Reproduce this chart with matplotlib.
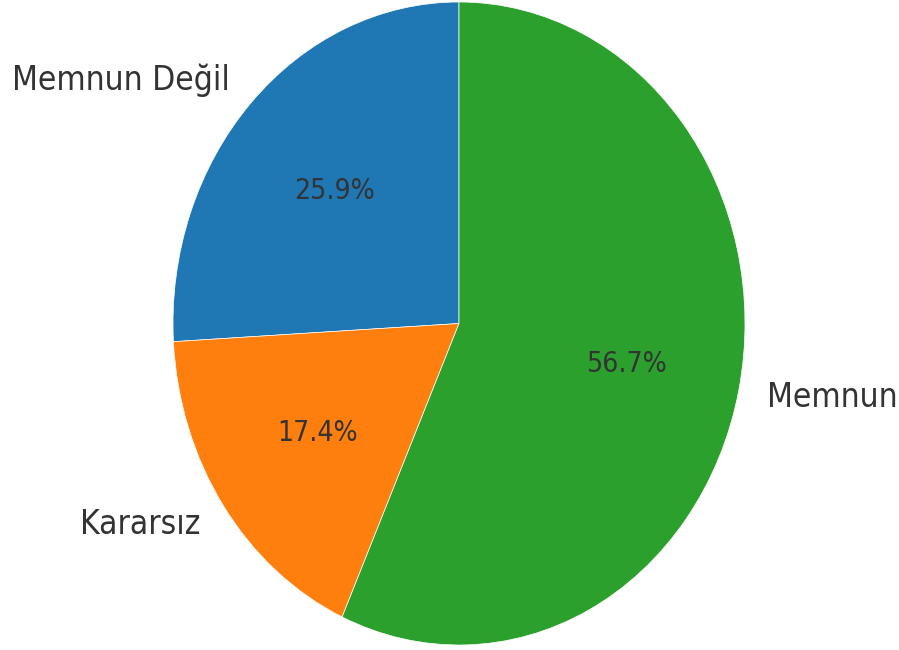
import matplotlib
matplotlib.use("Agg")
import matplotlib.pyplot as plt

labels = ["Memnun Değil", "Kararsız", "Memnun"]
values = [25.9, 17.4, 56.7]
colors = ["#1f77b4", "#ff7f0e", "#2ca02c"]

W, H = 899, 650
fig = plt.figure(figsize=(W / 100, H / 100), dpi=100)
# pie spans x 173..745, y 2..645 in the reference (slightly squashed)
ax = fig.add_axes([173 / W, (H - 645) / H, 572 / W, 643 / H])

wedges, texts, autotexts = ax.pie(
    values, labels=labels, colors=colors, autopct="%1.1f%%",
    startangle=90, counterclock=True,
    wedgeprops=dict(edgecolor="white", linewidth=0.5),
    textprops=dict(color="#333333", fontsize=20.3, fontstretch="condensed"),
)
for t in texts:
    t.set_fontsize(24)

ax.set_aspect("auto")
ax.set_xlim(-1, 1)
ax.set_ylim(-1, 1)
ax.axis("off")

fig.savefig("out.png", dpi=100, facecolor="white")
